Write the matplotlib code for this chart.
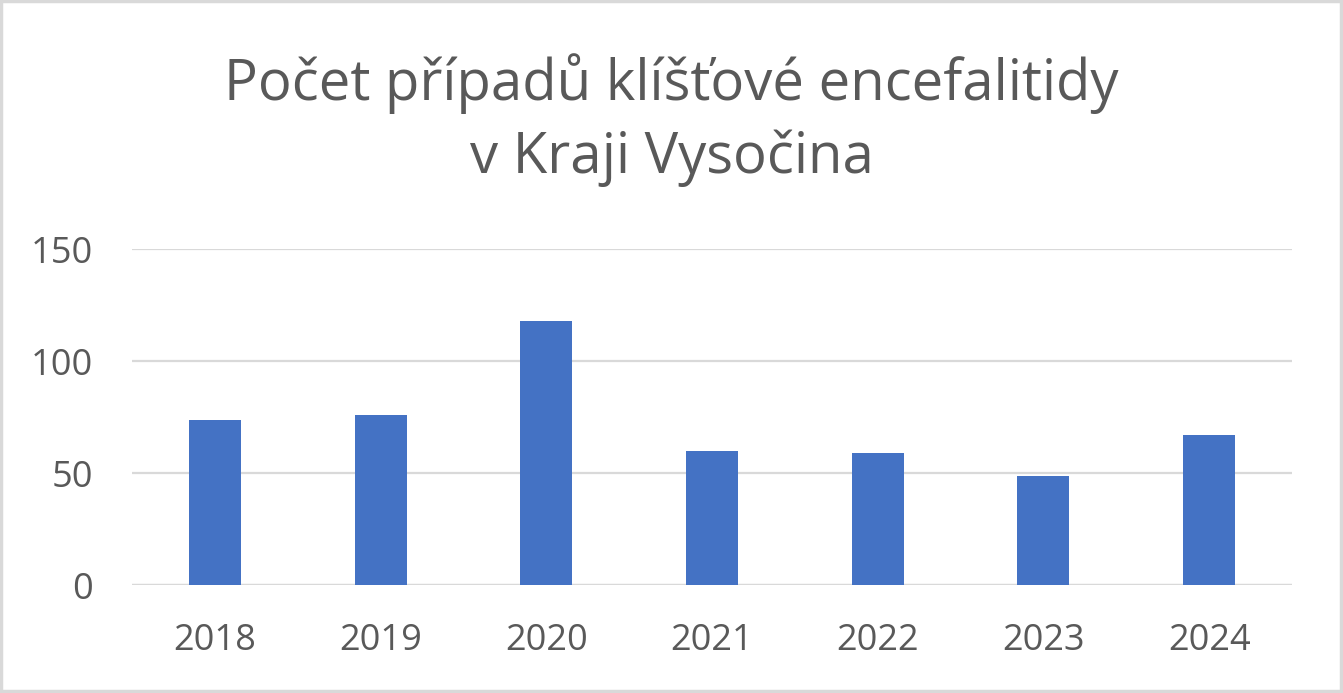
import matplotlib
matplotlib.use("Agg")
import matplotlib.pyplot as plt
from matplotlib.patches import Rectangle

years = ["2018", "2019", "2020", "2021", "2022", "2023", "2024"]
cases = [74, 76, 118, 60, 59, 49, 67]
yticks = [0, 50, 100, 150]
title = "Počet případů klíšťové encefalitidy\nv Kraji Vysočina"

plt.rcParams['font.family'] = ['Open Sans', 'DejaVu Sans']
text_color = "#595959"
grid_color = "#D9D9D9"
bar_color = "#4472C4"

fig = plt.figure(figsize=(13.43, 6.93), dpi=100)
ax = fig.add_axes([132/1343, 1-585.3/693, (1292-132)/1343, (585.3-249.3)/693])

x = list(range(len(years)))
ax.bar(x, cases, width=0.314, color=bar_color, zorder=3)
ax.set_xlim(-0.5, len(years)-0.5)
ax.set_ylim(0, 150)
ax.set_yticks(yticks)
ax.set_yticklabels([str(v) for v in yticks])
ax.set_xticks(x)
ax.set_xticklabels(years)
ax.yaxis.grid(True, color=grid_color, linewidth=1.6, zorder=0)
ax.xaxis.grid(False)
for s in ax.spines.values():
    s.set_visible(False)
ax.axhline(0, color=grid_color, linewidth=1.6, zorder=1)
ax.tick_params(axis='both', length=0, labelsize=26, labelcolor=text_color)
ax.tick_params(axis='y', pad=28)
ax.tick_params(axis='x', pad=27)

fig.text(0.5, 1-120/693, title, ha='center', va='center', fontsize=40.5,
         color=text_color, linespacing=1.37)

fig.patches.append(Rectangle((1/1343, 2/693), 1-3/1343, 1-3/693, transform=fig.transFigure,
                             fill=False, edgecolor=grid_color, linewidth=2.5))

fig.savefig("out.png", dpi=100, facecolor="white")
